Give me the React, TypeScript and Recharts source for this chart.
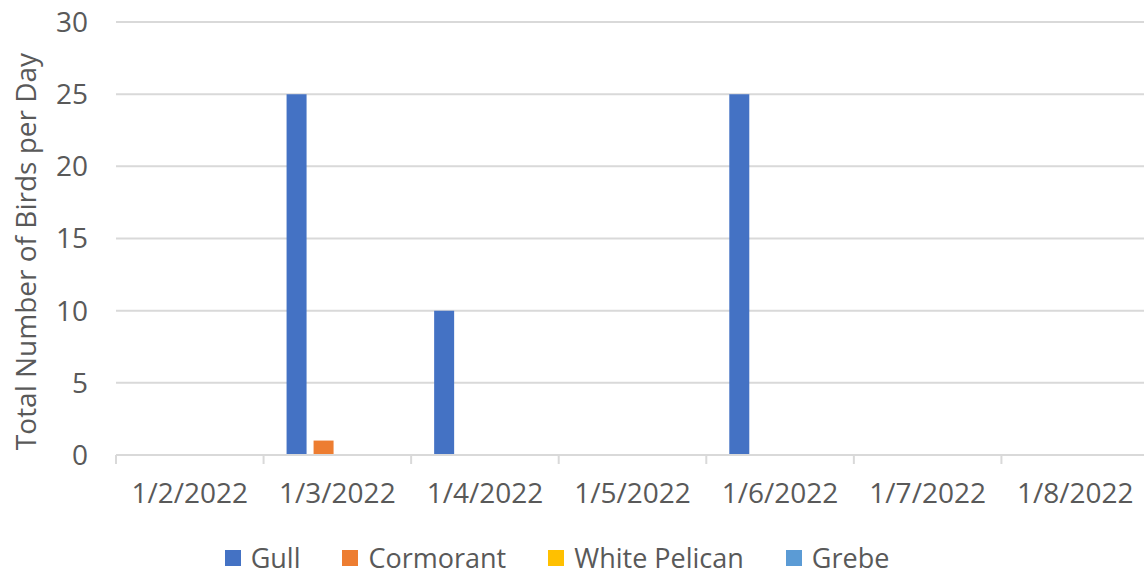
import React from 'react';
import { BarChart, Bar, XAxis, YAxis, CartesianGrid, Legend } from 'recharts';

const dates = ['1/2/2022', '1/3/2022', '1/4/2022', '1/5/2022', '1/6/2022', '1/7/2022', '1/8/2022'];
const gull = [0, 25, 10, 0, 25, 0, 0];
const cormorant = [0, 1, 0, 0, 0, 0, 0];
const whitePelican = [0, 0, 0, 0, 0, 0, 0];
const grebe = [0, 0, 0, 0, 0, 0, 0];
const yTicks = [0, 5, 10, 15, 20, 25, 30];

const series = [
  { key: 'gull', name: 'Gull', color: '#4472C4' },
  { key: 'cormorant', name: 'Cormorant', color: '#ED7D31' },
  { key: 'whitePelican', name: 'White Pelican', color: '#FFC000' },
  { key: 'grebe', name: 'Grebe', color: '#5B9BD5' },
];

const data = dates.map((d, i) => ({
  date: d,
  gull: gull[i],
  cormorant: cormorant[i],
  whitePelican: whitePelican[i],
  grebe: grebe[i],
}));

const FONT = '"Open Sans", "Noto Sans", sans-serif';
const TEXT = '#595959';
const GRID = '#d9d9d9';

const CHART_W = 1150;
const Y_AXIS_W = 116;
const MARGIN_R = 1;
const PLOT_W = CHART_W - Y_AXIS_W - MARGIN_R;
const BAND = PLOT_W / dates.length;

// label at band centre, tick mark on the band boundary (Excel style)
const DateTick = (props: any) => {
  const { x, y, payload } = props;
  const left = x - BAND / 2;
  return (
    <g>
      <line x1={left} y1={y} x2={left} y2={y + 9} stroke={GRID} strokeWidth={2} />
      <text x={x} y={y + 48} textAnchor="middle" fill={TEXT} fontSize={28} fontFamily={FONT}>
        {payload.value}
      </text>
    </g>
  );
};

// rotated axis title, sitting a little below the plot's middle like the original
const YTitle = (props: any) => {
  const { viewBox } = props;
  const cx = 25;
  const cy = viewBox.y + viewBox.height / 2 + 13;
  return (
    <text
      x={cx}
      y={cy}
      transform={`rotate(-90, ${cx}, ${cy})`}
      textAnchor="middle"
      dominantBaseline="central"
      fill={TEXT}
      fontSize={28}
      fontFamily={FONT}
    >
      Total Number of Birds per Day
    </text>
  );
};

const LegendContent = () => (
  <div style={{ display: 'flex', justifyContent: 'center', alignItems: 'center', gap: 42, height: 40, fontFamily: FONT, fontSize: 27, color: TEXT }}>
    {series.map(s => (
      <div key={s.key} style={{ display: 'flex', alignItems: 'center' }}>
        <span style={{ display: 'inline-block', width: 16, height: 16, background: s.color, marginRight: 10 }} />
        <span style={{ lineHeight: '40px' }}>{s.name}</span>
      </div>
    ))}
  </div>
);

export default function App() {
  return (
    <div style={{ position: 'absolute', left: 0, top: 0, width: 1144, height: 578, overflow: 'hidden', background: '#fff' }}>
      <BarChart
        width={CHART_W}
        height={578}
        data={data}
        margin={{ top: 22, right: MARGIN_R, bottom: 0, left: 0 }}
        barSize={20}
        barGap={7}
      >
        <CartesianGrid vertical={false} stroke={GRID} strokeWidth={2} />
        <XAxis
          dataKey="date"
          height={83}
          axisLine={{ stroke: GRID, strokeWidth: 2 }}
          tickLine={false}
          tickSize={0}
          tickMargin={0}
          interval={0}
          tick={<DateTick />}
        />
        <YAxis
          width={Y_AXIS_W}
          domain={[0, 30]}
          ticks={yTicks}
          axisLine={false}
          tickLine={false}
          tickSize={0}
          tickMargin={28}
          tick={{ fill: TEXT, fontSize: 28, fontFamily: FONT }}
          label={{ content: <YTitle /> }}
        />
        <Legend verticalAlign="bottom" wrapperStyle={{ left: 0, width: 1114 }} content={<LegendContent />} />
        {series.map(s => (
          <Bar key={s.key} dataKey={s.key} name={s.name} fill={s.color} isAnimationActive={false} />
        ))}
      </BarChart>
    </div>
  );
}
